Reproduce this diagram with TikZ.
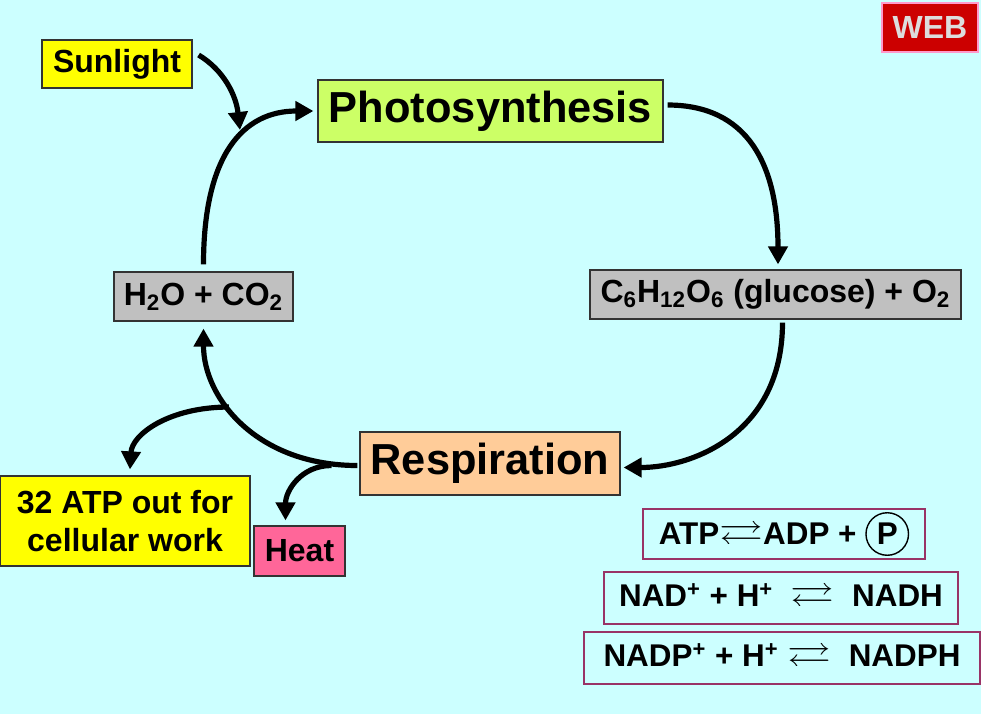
\documentclass[tikz,border=0pt]{standalone}
\usepackage{fontspec}
\usepackage{amssymb}
\usepackage{graphicx}
\setmainfont{Liberation Sans}
\usetikzlibrary{arrows.meta}
\definecolor{bg}{HTML}{CCFFFF}
\definecolor{photo}{HTML}{CCFF66}
\definecolor{resp}{HTML}{FFCC99}
\definecolor{sun}{HTML}{FFFF00}
\definecolor{grayb}{HTML}{C0C0C0}
\definecolor{heat}{HTML}{FF6699}
\definecolor{webred}{HTML}{CC0000}
\definecolor{webedge}{HTML}{FF99CC}
\definecolor{webtext}{HTML}{DDDDDD}
\definecolor{maroon}{HTML}{993366}
\newcommand\eqarrow{\scalebox{1.4}[1.1]{$\rightleftarrows$}}
\newcommand\circP{\tikz[baseline=(cp.base)]\node[draw=black,circle,line width=0.7pt,inner sep=2.2pt,minimum size=0pt,fill=none,text=black](cp){P};}
\tikzset{
  box/.style={draw=black!80,line width=0.6pt,inner sep=0pt,font=\bfseries\fontsize{16}{19}\selectfont,align=center},
  bigbox/.style={box,font=\bfseries\fontsize{21.7}{26}\selectfont},
  eqbox/.style={draw=maroon,line width=1.4pt,inner sep=0pt,font=\bfseries\fontsize{15.7}{19}\selectfont},
  arr/.style={line width=2.6pt,-{Triangle[length=9pt,width=9.5pt]}}
}
\begin{document}
\begin{tikzpicture}[x=0.5pt,y=-0.5pt]
\fill[bg] (0,0) rectangle (981,714);
\useasboundingbox (0,0) rectangle (981,714);
% nodes
\node[bigbox,fill=photo,minimum width=172.5pt,minimum height=31pt] (photo) at (490.5,111) {Photosynthesis};
\node[bigbox,fill=resp,minimum width=130pt,minimum height=31.5pt] (resp) at (490,463.5) {Respiration};
\node[box,fill=sun,minimum width=75pt,minimum height=24pt] (sun) at (117,64) {Sunlight};
\node[box,fill=grayb,minimum width=89.5pt,minimum height=24.5pt] (h2o) at (203.5,296.5) {H\textsubscript{2}O + CO\textsubscript{2}};
\node[box,fill=grayb,minimum width=185.5pt,minimum height=24.5pt] (gluc) at (775.5,294.5) {C\textsubscript{6}H\textsubscript{12}O\textsubscript{6} (glucose) + O\textsubscript{2}};
\node[box,fill=sun,minimum width=125pt,minimum height=45pt] (atp) at (125,521) {32 ATP out for\\cellular work};
\node[box,fill=heat,minimum width=45.5pt,minimum height=25pt] (heat) at (299.5,551) {Heat};
\node[box,draw=webedge,line width=1pt,fill=webred,text=webtext,minimum width=48pt,minimum height=24.5pt] (web) at (930,27.5) {WEB};
\node[eqbox,minimum width=141pt,minimum height=25pt] (eq1) at (784,534) {ATP\eqarrow ADP + \circP};
\node[eqbox,minimum width=177pt,minimum height=26pt] (eq2) at (781,598) {NAD\textsuperscript{+} + H\textsuperscript{+} \ \eqarrow\ \ NADH};
\node[eqbox,minimum width=198pt,minimum height=26pt] (eq3) at (782,658) {NADP\textsuperscript{+} + H\textsuperscript{+} \eqarrow\ \ NADPH};
% connectors
\draw[arr] ([shift={(0,-7)}]h2o.north) .. controls +(0,-110) and +(-70,0) .. ([shift={(-4,0)}]photo.west);
\draw[arr] ([shift={(6,-9)}]sun.east) .. controls +(25,15) and +(-4,-35) .. ([shift={(123,66)}]sun.center);
\draw[arr] ([shift={(4,-6)}]photo.east) .. controls +(80,0) and +(0,-100) .. ([shift={(2.5,-5)}]gluc.north);
\draw[arr] ([shift={(7,3)}]gluc.south) .. controls +(0,110) and +(70,0) .. ([shift={(3,4)}]resp.east);
\draw[arr] ([shift={(-2,2)}]resp.west) .. controls +(-100,0) and +(0,70) .. coordinate[pos=0.6] (brA) ([shift={(0,7)}]h2o.south);
\draw[arr] (brA) .. controls +(-60,0) and +(2,-35) .. ([shift={(5,-6)}]atp.north);
\coordinate (brB) at ([shift={(-28,2)}]resp.west);
\draw[arr] (brB) .. controls +(-30,0) and +(0,-30) .. ([shift={(-14,-5)}]heat.north);
\end{tikzpicture}
\end{document}
